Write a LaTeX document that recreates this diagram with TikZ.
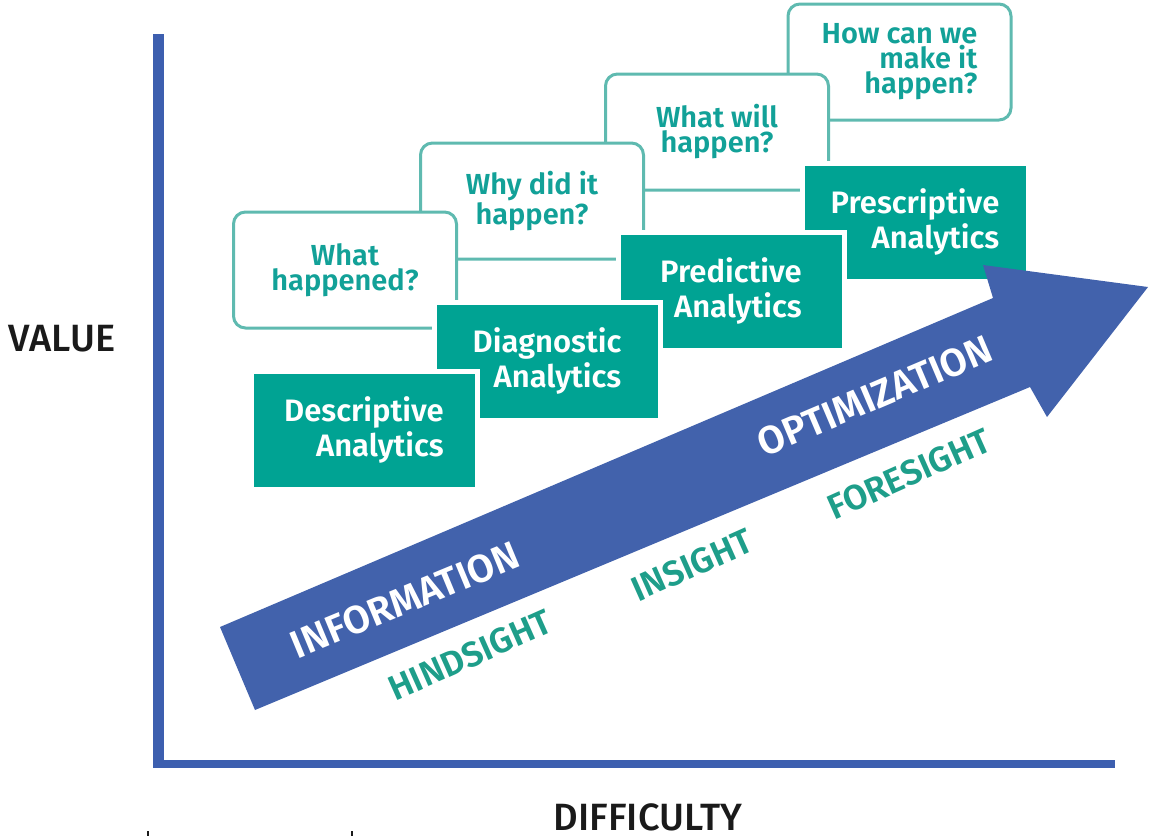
\documentclass[tikz,border=0pt]{standalone}
\usepackage{fontspec}
\setmainfont{Fira Sans}
\newfontfamily\medfont{Fira Sans Medium}
\newfontfamily\semifont{Fira Sans SemiBold}
\definecolor{axisblue}{HTML}{3D5FAF}
\definecolor{arrowblue}{HTML}{4262AC}
\definecolor{tealbox}{HTML}{00A393}
\definecolor{qline}{HTML}{5FBAB0}
\definecolor{qtext}{HTML}{12A198}
\definecolor{lowteal}{HTML}{1E9E8A}
\definecolor{labeltext}{HTML}{1A1A1A}
\tikzset{
  qbox/.style={draw=qline, line width=1.5pt, fill=white, rounded corners=6pt,
    minimum width=111.5pt, minimum height=58pt, inner sep=0pt, outer sep=0pt,
    text=qtext, font=\semifont\fontsize{14.5}{12.5}\selectfont},
  abox/.style={draw=white, line width=2.5pt, fill=tealbox,
    minimum width=113pt, minimum height=59pt, inner sep=0pt, outer sep=0pt,
    text=white, align=right, font=\semifont\fontsize{15.5}{17.5}\selectfont},
  atext/.style={text=white, font=\semifont\fontsize{19.5}{20}\selectfont, inner sep=0pt},
  ltext/.style={text=lowteal, font=\semifont\fontsize{17.5}{20}\selectfont, inner sep=0pt},
  axlabel/.style={text=labeltext, font=\medfont\fontsize{19}{22}\selectfont, inner sep=0pt},
  axisline/.style={draw=axisblue, line cap=butt},
}
\begin{document}
\begin{tikzpicture}[x={(0.5pt,0pt)}, y={(0pt,-0.5pt)}]
\useasboundingbox (0,0) rectangle (1149,836);
% axes
\draw[axisline, line width=5.5pt] (158.5,34) -- (158.5,768);
\draw[axisline, line width=4pt] (153,764) -- (1115,764);
\draw[labeltext, line width=0.6pt] (148,831) -- (148,836);
\draw[labeltext, line width=0.6pt] (352,831) -- (352,836);
\node[axlabel] (value) at (62,339) {VALUE};
\node[axlabel] (difficulty) at (648,817) {DIFFICULTY};
% question boxes (back to front)
\node[qbox, align=right] (q4) at (899.5,62) {How can we\\make it\\happen?};
\node[qbox, align=center] (q3) at (717,132) {What will\\happen?};
\node[qbox, align=center] (q2) at (532,201) {Why did it\\happen?};
\node[qbox, align=center] (q1) at (345,270) {What\\happened?};
% analytics boxes (back to front)
\node[abox] (a4) at (915,222) {Prescriptive\\Analytics};
\node[abox] (a3) at (731,291) {Predictive\\Analytics};
\node[abox] (a2) at (547,361) {Diagnostic\\Analytics};
\node[abox] (a1) at (364,430) {Descriptive\\Analytics};
% big arrow
\fill[arrowblue] (220,627) -- (993,298) -- (983,265) -- (1148,287) -- (1047,417) -- (1030,387) -- (255,710) -- cycle;
\node[atext, rotate=22.5] (info) at (405,600) {INFORMATION};
\node[atext, rotate=23] (opt) at (875,396) {OPTIMIZATION};
\node[ltext, rotate=24] (hind) at (470,655) {HINDSIGHT};
\node[ltext, rotate=24] (ins) at (692,565) {INSIGHT};
\node[ltext, rotate=24] (fore) at (909,474) {FORESIGHT};
\end{tikzpicture}
\end{document}
